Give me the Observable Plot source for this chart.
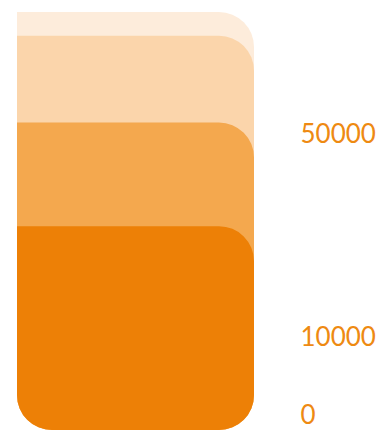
<!DOCTYPE html>
<html>
<head>
<meta charset="utf-8">
<script src="https://cdn.jsdelivr.net/npm/d3@7"></script>
<script src="https://cdn.jsdelivr.net/npm/@observablehq/plot@0.6"></script>
<style>
  html, body { margin: 0; padding: 0; background: #ffffff; }
  #chart svg { display: block; }
</style>
</head>
<body>
<div id="chart"></div>
<script>
// Layers (drawn largest first so darker ones sit on top)
const levels = ["level4", "level3", "level2", "level1"];
const levelValues = [82200, 76400, 56000, 33500];
const levelColors = ["#FDECDB", "#FBD5AB", "#F4A84E", "#ED8006"];
// Tick labels on the right
const tickValues = [0, 10000, 50000];

const data = levels.map((k, i) => ({ key: k, value: levelValues[i], color: levelColors[i] }));

const chart = Plot.plot({
  width: 387,
  height: 430,
  marginTop: 12,
  marginBottom: 0,
  marginLeft: 17,
  marginRight: 133,
  style: { fontFamily: "Lato, 'Open Sans', sans-serif", background: "#ffffff" },
  x: { type: "band", domain: ["all"], padding: 0, axis: null },
  y: { type: "pow", exponent: 0.8, domain: [0, 82200], axis: null },
  marks: [
    Plot.barY(data, {
      x: () => "all",
      y1: 0,
      y2: "value",
      fill: "color",
      r: 35,
      rx1y1: 0
    }),
    Plot.axisY(tickValues, {
      anchor: "right",
      tickSize: 0,
      tickPadding: 46,
      textAnchor: "start",
      fontSize: 26,
      dy: -15,
      fill: "#EE8A12",
      tickFormat: d => String(d),
      label: null
    })
  ]
});

document.getElementById("chart").appendChild(chart);
</script>
</body>
</html>
